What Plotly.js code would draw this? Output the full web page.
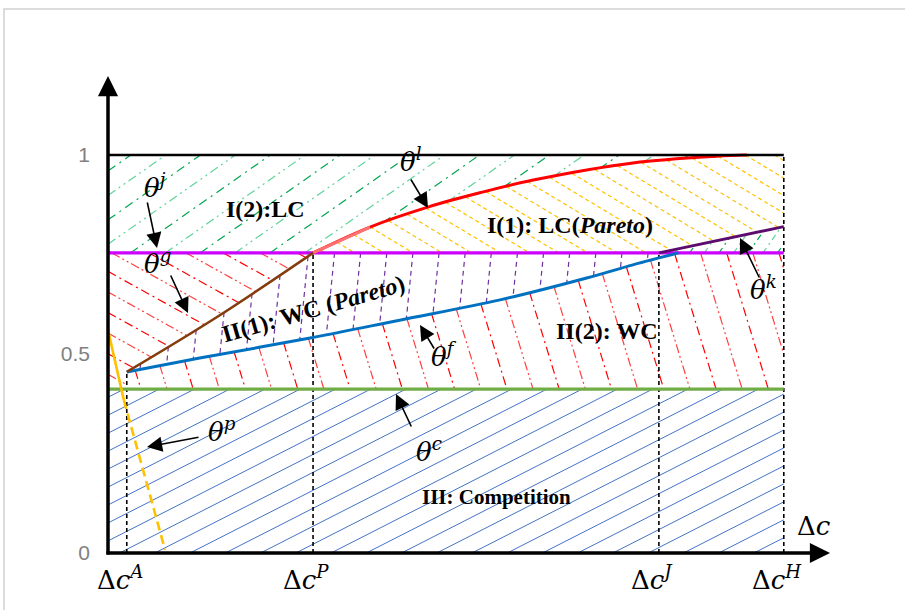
<!DOCTYPE html>
<html><head><meta charset="utf-8">
<script src="https://cdn.plot.ly/plotly-3.0.1.min.js"></script>
<style>
html,body{margin:0;padding:0;background:#fff;}
#frame{position:absolute;left:3px;top:8px;width:902px;height:602px;border-left:2px solid #dcdcdc;border-top:2px solid #dcdcdc;}
#chart{position:absolute;left:0;top:0;width:905px;height:610px;}
</style></head>
<body><div id="frame"></div><div id="chart"></div>
<script>
// ---- data ----
const tickNames = ['A','P','J','H'];
const tickVals = [0.26, 2.84, 7.63, 9.36];          // Δc^A, Δc^P, Δc^J, Δc^H
const yTickVals = [0, 0.5, 1];
const yTickText = ['0', '0.5', '1'];
const thetaC = 0.412;   // green line θ^c
const thetaJ = 0.754;   // magenta line θ^j
const thetaTop = 1.0;   // upper bound
const thetaF_x = [0.26, 1.27, 2.80, 4.04, 5.43, 6.63, 7.27, 7.90];
const thetaF_y = [0.455, 0.490, 0.540, 0.585, 0.636, 0.691, 0.724, 0.754];
const thetaG_x = [0.26, 1.51, 2.84];
const thetaG_y = [0.455, 0.593, 0.754];
const thetaL_x = [2.84, 3.63, 4.43, 5.15, 5.89, 7.27, 8.43, 8.85];
const thetaL_y = [0.754, 0.819, 0.869, 0.905, 0.937, 0.980, 0.997, 1.0];
const thetaK_x = [7.63, 9.36];
const thetaK_y = [0.754, 0.82];
const thetaP_solid_x = [0, 0.22];
const thetaP_solid_y = [0.56, 0.384];
const thetaP_dash_x = [0.22, 0.79];
const thetaP_dash_y = [0.384, 0.008];

// ---- geometry helpers (plot area) ----
const ML=108, MR=75, MT=76, MB=57, WIDTH=905, HEIGHT=610;
const XMAX=10, YMAX=1.1985;
const PW=WIDTH-ML-MR, PH=HEIGHT-MT-MB;
const toPx = (x,y)=>[ML + x/XMAX*PW, (HEIGHT-MB) - y/YMAX*PH];
const toData = (px,py)=>[(px-ML)/PW*XMAX, ((HEIGHT-MB)-py)/PH*YMAX];
const pxX=px=>(px-ML)/PW*XMAX, pxY=py=>((HEIGHT-MB)-py)/PH*YMAX;

function hatch(poly, angleDeg, spacing, offset){
  const P = poly.map(p=>toPx(p[0],p[1]));
  const a = angleDeg*Math.PI/180;
  const d=[Math.cos(a),Math.sin(a)], n=[-d[1],d[0]];
  let mn=Infinity,mx=-Infinity;
  P.forEach(p=>{const s=p[0]*n[0]+p[1]*n[1]; mn=Math.min(mn,s); mx=Math.max(mx,s);});
  const sets=[{x:[],y:[]},{x:[],y:[]}];
  let k=0;
  for(let s=Math.ceil((mn-offset)/spacing)*spacing+offset; s<=mx; s+=spacing, k++){
    const ts=[];
    for(let i=0;i<P.length;i++){
      const p=P[i], q=P[(i+1)%P.length];
      const sp=p[0]*n[0]+p[1]*n[1]-s, sq=q[0]*n[0]+q[1]*n[1]-s;
      if((sp>0)!==(sq>0)){
        const u=sp/(sp-sq);
        const X=p[0]+u*(q[0]-p[0]), Y=p[1]+u*(q[1]-p[1]);
        ts.push(X*d[0]+Y*d[1]);
      }
    }
    ts.sort((a,b)=>a-b);
    const set=sets[k%2];
    for(let i=0;i+1<ts.length;i+=2){
      [ts[i],ts[i+1]].forEach(t=>{
        const dd=toData(s*n[0]+t*d[0], s*n[1]+t*d[1]); set.x.push(dd[0]); set.y.push(dd[1]);
      });
      set.x.push(null); set.y.push(null);
    }
  }
  return sets;
}
const zip=(xs,ys)=>xs.map((x,i)=>[x,ys[i]]);
const [dcA,dcP,dcJ,dcH]=tickVals;
const F=zip(thetaF_x,thetaF_y), G=zip(thetaG_x,thetaG_y), L=zip(thetaL_x,thetaL_y), K=zip(thetaK_x,thetaK_y);
const fEnd=F[F.length-1], kEnd=K[K.length-1];

const regions = {
  comp: [[0,0],[dcH,0],[dcH,thetaC],[0,thetaC]],
  redShallow: [[0,thetaC],[0,thetaJ],[dcP,thetaJ]].concat(G.slice(0,-1).reverse()).concat([[dcA,thetaC]]),
  redSteep: [[dcA,thetaC]].concat(F).concat([[dcH,thetaJ],[dcH,thetaC]]),
  purple: G.concat([fEnd]).concat(F.slice(0,-1).reverse()),
  green: [[0,thetaJ],[0,thetaTop]].concat(L.slice().reverse()),
  green2: [[dcJ,thetaJ],[dcH,thetaJ],[dcH,kEnd[1]]],
  yellow: L.concat([[dcH,thetaTop],[dcH,kEnd[1]],[dcJ,thetaJ]])
};

const traces=[];
function addHatch(sets, styles){
  sets.forEach((s,i)=>{
    const st=styles[i%styles.length];
    traces.push({type:'scatter',mode:'lines',x:s.x,y:s.y,hoverinfo:'skip',showlegend:false,
      line:{color:st.color,width:st.width,dash:st.dash}});
  });
}
const redA={color:'#FF0000',width:1.2,dash:'9px,4px,2px,4px'}, redB={color:'#FF4040',width:1.2,dash:'9px,3px,2px,3px,2px,3px'};
addHatch(hatch(regions.comp,-27,16,3),[{color:'#4472C4',width:1,dash:'solid'}]);
addHatch(hatch(regions.redShallow,29,18,5),[redA,redB]);
addHatch(hatch(regions.redSteep,73,25,4),[redA,redB]);
addHatch(hatch(regions.purple,95.7,26,6),[{color:'#7030A0',width:1.2,dash:'5px,4px'}]);
addHatch(hatch(regions.green,-35,20,2),[{color:'#00A650',width:1.2,dash:'9px,5px,2px,5px'},{color:'#5FD39A',width:1.2,dash:'9px,4px,2px,4px,2px,4px'}]);
addHatch(hatch(regions.green2,-55,12,2),[{color:'#00A650',width:1.2,dash:'6px,4px,2px,4px'},{color:'#5FD39A',width:1.2,dash:'6px,4px,2px,4px'}]);
addHatch(hatch(regions.yellow,31,15,4),[{color:'#FFC000',width:1.2,dash:'4px,3px'}]);

function line(x,y,color,width,dash,shape){traces.push({type:'scatter',mode:'lines',x:x,y:y,hoverinfo:'skip',showlegend:false,line:{color:color,width:width,dash:dash||'solid',shape:shape||'linear'}});}
// dashed verticals
const vTops=[G[0][1], thetaJ, thetaJ, thetaTop];
tickVals.forEach((v,i)=>line([v,v],[0,vTops[i]],'#000000',1.6,'4px,3px'));
line([0,dcH],[thetaC,thetaC],'#70AD47',3.2);
line([0,dcH],[thetaJ,thetaJ],'#CC00FF',3.2);
line(thetaL_x,thetaL_y,'#FF0000',3,'solid','spline');
line(thetaL_x.slice(0,2),thetaL_y.slice(0,2),'#FF7070',3);
line([0,dcH],[thetaTop,thetaTop],'#000000',2.6);
line(thetaF_x,thetaF_y,'#0070C0',3,'solid','spline');
line(thetaG_x,thetaG_y,'#843C0C',2.6,'solid','spline');
line(thetaK_x,thetaK_y,'#5E0B6E',2.8);
line(thetaP_solid_x,thetaP_solid_y,'#FFC000',2.6);
line(thetaP_dash_x,thetaP_dash_y,'#FFC000',2.6,'9px,5px');

// ---- annotations ----
const ann=[];
function arrow(tx,ty,hx,hy,w,sz){ann.push({x:pxX(hx),y:pxY(hy),ax:pxX(tx),ay:pxY(ty),xref:'x',yref:'y',axref:'x',ayref:'y',text:'',showarrow:true,arrowhead:2,arrowsize:sz,arrowwidth:w,arrowcolor:'#000',standoff:0,startstandoff:0});}
arrow(108,556,108,76,3.5,1.15);
arrow(105,553,830,553,3.5,1.15);
arrow(147,201,157,248,1.6,1.9);
arrow(170,274,188,313,1.6,1.9);
arrow(410,178,428,208,1.6,1.9);
arrow(760,279,740,238,1.6,1.9);
arrow(435,350,420,325,1.6,1.9);
arrow(412,428,396,394,1.6,1.9);
arrow(200,437,147,447,1.6,1.9);

const serif='DejaVu Serif, serif';
function label(txt,px,py,size){ann.push({x:pxX(px),y:pxY(py),xref:'x',yref:'y',text:txt,showarrow:false,font:{family:serif,size:size,color:'#000'}});}
const th=(s)=>'<i>θ</i><sup><i>'+s+'</i></sup>';
label(th('j'),155,186,26);
label(th('g'),157,262,26);
label(th('l'),411,160,26);
label(th('k'),763,288,26);
label(th('f'),444,355,26);
label(th('c'),429,450,26);
label(th('p'),222,430,26);
label('<i>θ</i>',73,92,26);
label('Δ<i>c</i>',814,526,26);
// x tick labels
tickVals.forEach((v,i)=>ann.push({x:v,y:0,xref:'x',yref:'y',yanchor:'top',xanchor:'center',xshift:-7,yshift:-6,
  text:'Δ<i>c</i><sup><i>'+tickNames[i]+'</i></sup>',showarrow:false,font:{family:serif,size:26,color:'#000'}}));
const tnr='Liberation Serif, Times New Roman, serif';
function region(txt,px,py,size,ang){ann.push({x:pxX(px),y:pxY(py),xref:'x',yref:'y',text:'<b>'+txt+'</b>',showarrow:false,textangle:ang||0,font:{family:tnr,size:size,color:'#000'}});}
region('I(2):LC',265,209,24);
region('I(1): LC(<i>Pareto</i>)',570,225,24);
region('II(1): WC (<i>Pareto</i>)',313,309,24,-16);
region('II(2): WC',607,331,24);
region('III: Competition',496,497,21);

const layout={
  width:WIDTH,height:HEIGHT,margin:{l:ML,r:MR,t:MT,b:MB,pad:0},
  paper_bgcolor:'rgba(0,0,0,0)',plot_bgcolor:'rgba(0,0,0,0)',showlegend:false,
  xaxis:{range:[0,XMAX],showgrid:false,zeroline:false,showline:false,ticks:'',showticklabels:false,fixedrange:true},
  yaxis:{range:[0,YMAX],showgrid:false,zeroline:false,showline:false,ticks:'',
    tickvals:yTickVals,ticktext:yTickText,tickfont:{family:'Liberation Sans, Arial, sans-serif',size:21,color:'#808080'},
    ticklabelstandoff:17,fixedrange:true},
  annotations:ann
};
Plotly.newPlot('chart',traces,layout,{staticPlot:true,displayModeBar:false});
</script></body></html>
